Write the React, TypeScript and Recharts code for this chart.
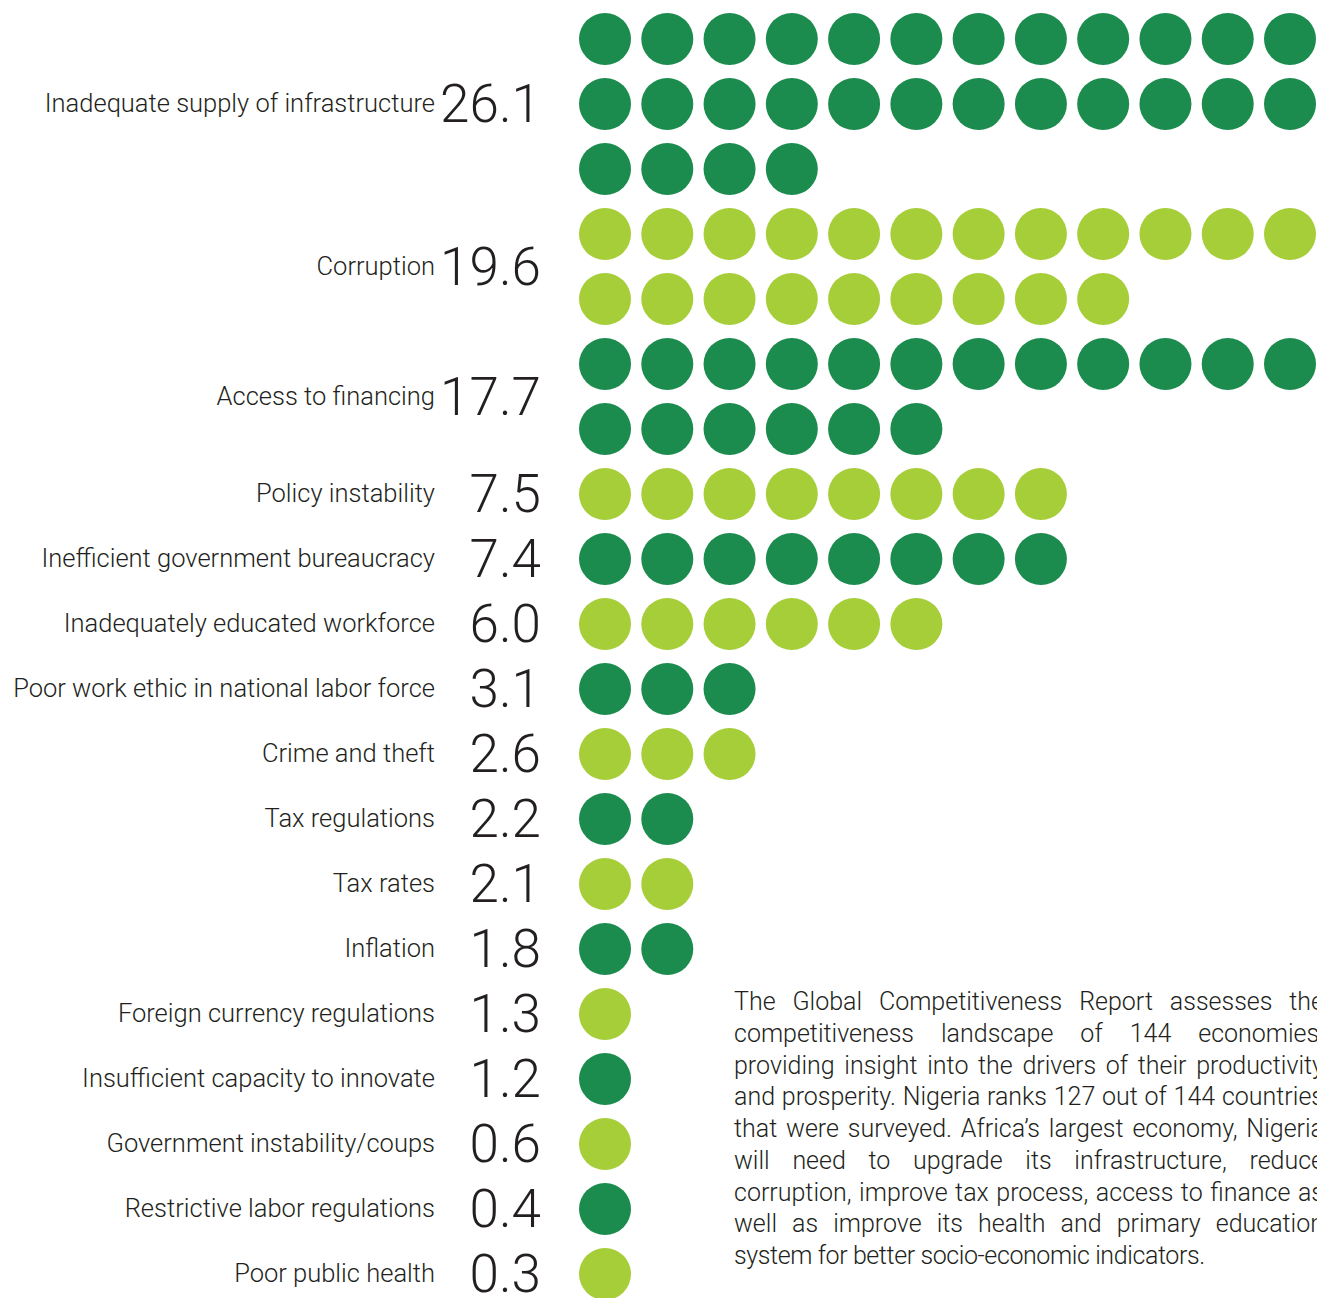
import { Scatter, ScatterChart, XAxis, YAxis } from "recharts";

const categories = [
  "Inadequate supply of infrastructure",
  "Corruption",
  "Access to financing",
  "Policy instability",
  "Inefficient government bureaucracy",
  "Inadequately educated workforce",
  "Poor work ethic in national labor force",
  "Crime and theft",
  "Tax regulations",
  "Tax rates",
  "Inflation",
  "Foreign currency regulations",
  "Insufficient capacity to innovate",
  "Government instability/coups",
  "Restrictive labor regulations",
  "Poor public health"
];
const scores = [26.1, 19.6, 17.7, 7.5, 7.4, 6.0, 3.1, 2.6, 2.2, 2.1, 1.8, 1.3, 1.2, 0.6, 0.4, 0.3];
const dotCounts = [28, 21, 18, 8, 8, 6, 3, 3, 2, 2, 2, 1, 1, 1, 1, 1];

const paragraphLines = [
  "The Global Competitiveness Report assesses the",
  "competitiveness landscape of 144 economies,",
  "providing insight into the drivers of their productivity",
  "and prosperity. Nigeria ranks 127 out of 144 countries",
  "that were surveyed. Africa\u2019s largest economy, Nigeria",
  "will need to upgrade its infrastructure, reduce",
  "corruption, improve tax process, access to finance as",
  "well as improve its health and primary education",
  "system for better socio-economic indicators."
];

const PER_ROW = 12;
const DARK = "#1c8b4e";
const LIGHT = "#a6ce39";
const TEXT = "#231f20";
const FONT = "Roboto, 'Open Sans', sans-serif";

// lay the dots out in rows of twelve
const points: { col: number; row: number; cat: number }[] = [];
const tickRows: number[] = [];
let rowCursor = 0;
categories.forEach((_, i) => {
  const n = dotCounts[i];
  const rows = Math.ceil(n / PER_ROW);
  for (let j = 0; j < n; j++) {
    points.push({ col: j % PER_ROW, row: rowCursor + Math.floor(j / PER_ROW), cat: i });
  }
  tickRows.push(rowCursor + (rows - 1) / 2);
  rowCursor += rows;
});
const lastRow = rowCursor - 1;

function LabelTick(props: any) {
  const { y, payload } = props;
  const i = tickRows.indexOf(payload.value);
  if (i < 0) return null;
  return (
    <g>
      <text x={435} y={y + 8} textAnchor="end" fontSize={25.5} fontWeight={300} fill={TEXT} fontFamily={FONT}>
        {categories[i]}
      </text>
      <text x={541} y={y + 18} textAnchor="end" fontSize={53} fontWeight={300} fill={TEXT} fontFamily={FONT}>
        {scores[i].toFixed(1)}
      </text>
    </g>
  );
}

function Dot(props: any) {
  const { cx, cy, payload } = props;
  return <circle cx={cx} cy={cy} r={26} fill={payload.cat % 2 === 0 ? DARK : LIGHT} />;
}

export default function App() {
  return (
    <div
      style={{
        position: "absolute",
        left: 0,
        top: 0,
        width: 1317,
        height: 1298,
        overflow: "hidden",
        background: "#fff"
      }}
    >
      <ScatterChart width={1317} height={1298} margin={{ top: 39, right: 27, bottom: 24, left: 0 }}>
        <XAxis type="number" dataKey="col" domain={[0, PER_ROW - 1]} hide />
        <YAxis
          type="number"
          dataKey="row"
          domain={[0, lastRow]}
          reversed
          ticks={tickRows}
          interval={0}
          width={605}
          axisLine={false}
          tickLine={false}
          tick={<LabelTick />}
        />
        <Scatter data={points} shape={<Dot />} isAnimationActive={false} />
      </ScatterChart>
      <div
        style={{
          position: "absolute",
          left: 734,
          top: 986,
          width: 590,
          fontFamily: FONT,
          fontWeight: 300,
          fontSize: 25,
          color: TEXT
        }}
      >
        {paragraphLines.map((line, i) => (
          <div
            key={i}
            style={{
              height: 31.75,
              lineHeight: "31.75px",
              whiteSpace: "nowrap",
              textAlign: "justify",
              textAlignLast: i === paragraphLines.length - 1 ? "left" : "justify",
              letterSpacing: i === paragraphLines.length - 1 ? -0.4 : 0
            }}
          >
            {line}
          </div>
        ))}
      </div>
    </div>
  );
}
